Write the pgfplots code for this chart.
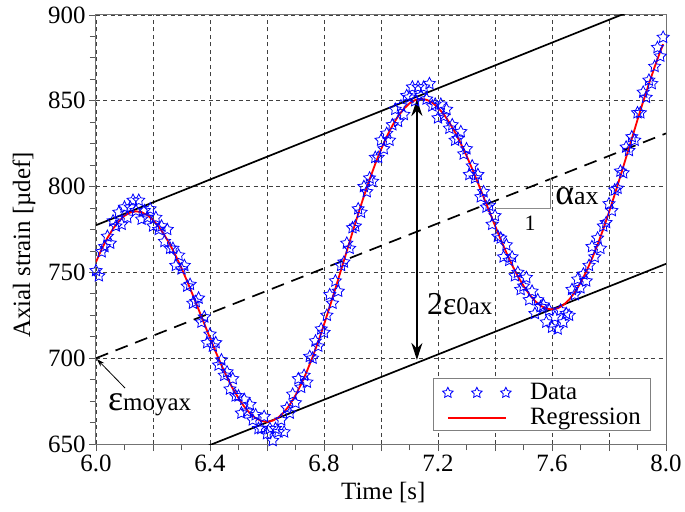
\documentclass[border=0pt]{standalone}
\usepackage{pgfplots}
\pgfplotsset{compat=1.18}
\usepackage{fontspec}
\setmainfont{Liberation Serif}
\usetikzlibrary{arrows.meta}
\pgfdeclareplotmark{ostar}{%
  \pgfpathmoveto{\pgfpointpolar{90}{\pgfplotmarksize}}%
  \pgfpathlineto{\pgfpointpolar{126}{0.5\pgfplotmarksize}}%
  \pgfpathlineto{\pgfpointpolar{162}{\pgfplotmarksize}}%
  \pgfpathlineto{\pgfpointpolar{198}{0.5\pgfplotmarksize}}%
  \pgfpathlineto{\pgfpointpolar{234}{\pgfplotmarksize}}%
  \pgfpathlineto{\pgfpointpolar{270}{0.5\pgfplotmarksize}}%
  \pgfpathlineto{\pgfpointpolar{306}{\pgfplotmarksize}}%
  \pgfpathlineto{\pgfpointpolar{342}{0.5\pgfplotmarksize}}%
  \pgfpathlineto{\pgfpointpolar{18}{\pgfplotmarksize}}%
  \pgfpathlineto{\pgfpointpolar{54}{0.5\pgfplotmarksize}}%
  \pgfpathclose
  \pgfusepathqstroke}
\begin{document}
\begin{tikzpicture}[font=\fontsize{25}{30}\selectfont]
\begin{axis}[
  name=ax, scale only axis, width=570bp, height=429bp,
  xmin=6, xmax=8, ymin=650, ymax=900,
  xtick={6,6.2,6.4,6.6,6.8,7,7.2,7.4,7.6,7.8,8},
  xticklabels={6.0,{},6.4,{},6.8,{},7.2,{},7.6,{},8.0},
  ytick={650,700,750,800,850,900},
  minor x tick num=1, minor y tick num=3,
  tick align=outside, tick pos=left,
  major tick length=7bp, minor tick length=6bp,
  tick style={black!65, line width=0.8bp},
  axis line style={black!55, line width=1bp},
  grid=major,
  major grid style={black!75, line width=0.7bp, dash pattern=on 4bp off 3.5bp},
  /pgf/number format/assume math mode=true,
  ticklabel style={font=\fontsize{25}{25}\selectfont},
  xlabel={Time [s]}, ylabel={Axial strain [µdef]},
  xlabel style={at={(axis description cs:0.504,-0.1305)}, anchor=base},
  ylabel style={at={(axis description cs:-0.1263,0.464)}, anchor=center},
  legend style={at={(axis description cs:0.974,0.03)}, anchor=south east,
    draw=black!50, line width=0.8bp, fill=white,
    font=\fontsize{25}{25}\selectfont, inner xsep=9bp, inner ysep=4bp,
    row sep=5bp, column sep=18bp, nodes={inner sep=1bp}},
  legend cell align=left,
]
\addplot[black, line width=1.7bp, forget plot] coordinates {(6,777.5)(8,910.5)};
\addplot[black, line width=1.7bp, dash pattern=on 13bp off 8bp, forget plot] coordinates {(6,700)(8,831)};
\addplot[black, line width=1.7bp, forget plot] coordinates {(6,623)(8,755)};
\addplot[black!45, line width=0.8bp, forget plot] coordinates {(7.40,787.5)(7.593,787.5)(7.593,805)};
\addplot[blue, only marks, mark=ostar, mark size=6.3bp, line width=0.8bp,
  legend image code/.code={\draw[mark repeat=1,mark phase=1,mark size=5.5bp] plot coordinates {(0bp,-1bp) (29bp,-1bp) (58bp,-1bp)};}]
coordinates {
(6.00,751)(6.01,748)(6.02,762)(6.03,765)(6.04,771)(6.05,767)(6.06,780)(6.07,777)(6.08,785)(6.09,778)
(6.10,788)(6.11,782)(6.12,788)(6.13,792)(6.14,786)(6.15,792)(6.16,781)(6.17,786)(6.18,782)(6.19,787)
(6.20,777)(6.21,782)(6.22,775)(6.23,777)(6.24,768)(6.25,775)(6.26,764)(6.27,764)(6.28,754)(6.29,760)
(6.30,752)(6.31,754)(6.32,742)(6.33,743)(6.34,732)(6.35,733)(6.36,735)(6.37,721)(6.38,724)(6.39,709)
(6.40,714)(6.41,707)(6.42,709)(6.43,696)(6.44,699)(6.45,690)(6.46,692)(6.47,682)(6.48,688)(6.49,678)
(6.50,678)(6.51,668)(6.52,676)(6.53,669)(6.54,673)(6.55,664)(6.56,667)(6.57,659)(6.58,659)(6.59,666)
(6.60,656)(6.61,659)(6.62,652)(6.63,659)(6.64,657)(6.65,664)(6.66,657)(6.67,671)(6.68,668)(6.69,679)
(6.70,674)(6.71,688)(6.72,683)(6.73,690)(6.74,686)(6.75,701)(6.76,700)(6.77,710)(6.78,707)(6.79,717)
(6.80,715)(6.81,725)(6.82,737)(6.83,732)(6.84,745)(6.85,739)(6.86,754)(6.87,756)(6.88,767)(6.89,764)
(6.90,776)(6.91,777)(6.92,787)(6.93,785)(6.94,800)(6.95,797)(6.96,805)(6.97,803)(6.98,817)(6.99,817)
(7.00,827)(7.01,822)(7.02,831)(7.03,827)(7.04,836)(7.05,845)(7.06,838)(7.07,847)(7.08,842)(7.09,853)
(7.10,852)(7.11,858)(7.12,850)(7.13,858)(7.14,853)(7.15,858)(7.16,851)(7.17,860)(7.18,847)(7.19,848)
(7.20,840)(7.21,848)(7.22,841)(7.23,845)(7.24,834)(7.25,836)(7.26,827)(7.27,828)(7.28,832)(7.29,819)
(7.30,822)(7.31,807)(7.32,812)(7.33,805)(7.34,807)(7.35,794)(7.36,797)(7.37,788)(7.38,789)(7.39,778)
(7.40,783)(7.41,771)(7.42,770)(7.43,759)(7.44,766)(7.45,757)(7.46,759)(7.47,748)(7.48,750)(7.49,740)
(7.50,742)(7.51,747)(7.52,734)(7.53,739)(7.54,726)(7.55,734)(7.56,730)(7.57,731)(7.58,721)(7.59,728)
(7.60,718)(7.61,724)(7.62,717)(7.63,728)(7.64,721)(7.65,726)(7.66,725)(7.67,740)(7.68,737)(7.69,746)
(7.70,741)(7.71,749)(7.72,745)(7.73,754)(7.74,765)(7.75,759)(7.76,770)(7.77,764)(7.78,777)(7.79,779)
(7.80,790)(7.81,786)(7.82,798)(7.83,799)(7.84,809)(7.85,808)(7.86,823)(7.87,821)(7.88,829)(7.89,827)
(7.90,843)(7.91,843)(7.92,855)(7.93,852)(7.94,862)(7.95,860)(7.96,870)(7.97,881)(7.98,876)(7.99,887)
};
\addlegendentry{Data}
\addplot[red, line width=1.8bp, no marks,
  legend image code/.code={\draw[line width=2bp] (0bp,-1bp) -- (58bp,-1bp);}]
coordinates {
(6.00,756.1)(6.02,763.6)(6.04,770.1)(6.06,775.5)(6.08,779.8)(6.10,783.0)(6.12,784.9)(6.14,785.6)(6.16,785.1)(6.18,783.4)
(6.20,780.6)(6.22,776.7)(6.24,771.8)(6.26,766.1)(6.28,759.6)(6.30,752.5)(6.32,744.8)(6.34,736.7)(6.36,728.4)(6.38,720.1)
(6.40,711.8)(6.42,703.7)(6.44,696.0)(6.46,688.8)(6.48,682.3)(6.50,676.7)(6.52,671.8)(6.54,667.9)(6.56,665.1)(6.58,663.4)
(6.60,662.9)(6.62,663.6)(6.64,665.5)(6.66,668.6)(6.68,672.9)(6.70,678.4)(6.72,684.9)(6.74,692.4)(6.76,700.7)(6.78,709.8)
(6.80,719.6)(6.82,729.9)(6.84,740.6)(6.86,751.5)(6.88,762.4)(6.90,773.4)(6.92,784.1)(6.94,794.4)(6.96,804.2)(6.98,813.3)
(7.00,821.6)(7.02,829.1)(7.04,835.6)(7.06,841.0)(7.08,845.3)(7.10,848.5)(7.12,850.4)(7.14,851.1)(7.16,850.6)(7.18,848.9)
(7.20,846.1)(7.22,842.2)(7.24,837.3)(7.26,831.6)(7.28,825.1)(7.30,818.0)(7.32,810.3)(7.34,802.2)(7.36,793.9)(7.38,785.6)
(7.40,777.3)(7.42,769.2)(7.44,761.5)(7.46,754.3)(7.48,747.8)(7.50,742.2)(7.52,737.3)(7.54,733.4)(7.56,730.6)(7.58,728.9)
(7.60,728.4)(7.62,729.1)(7.64,731.0)(7.66,734.1)(7.68,738.4)(7.70,743.9)(7.72,750.4)(7.74,757.9)(7.76,766.2)(7.78,775.3)
(7.80,785.1)(7.82,795.4)(7.84,806.1)(7.86,817.0)(7.88,827.9)(7.90,838.9)(7.92,849.6)(7.94,859.9)(7.96,869.7)(7.98,878.8)
(7.99,883.0)
};
\addlegendentry{Regression}
\addplot[black, line width=1.5bp, {Stealth[length=17bp,width=11bp]}-{Stealth[length=17bp,width=11bp]}, forget plot]
  coordinates {(7.126,851)(7.126,699)};
\node[anchor=base west, inner sep=0pt] at (axis cs:7.161,725.2) {\fontsize{32}{32}\selectfont 2ε\fontsize{25}{25}\selectfont 0ax};
\node[anchor=base west, inner sep=0pt] at (axis cs:7.611,789.3) {\fontsize{36}{36}\selectfont α\fontsize{26}{26}\selectfont ax};
\node[anchor=base, inner sep=0pt] at (axis cs:7.523,774.7) {\fontsize{22}{22}\selectfont 1};
\node[anchor=base west, inner sep=0pt] at (axis cs:6.042,669.8) {\fontsize{36}{36}\selectfont ε\fontsize{25}{25}\selectfont moyax};
\draw[black, line width=0.8bp, -{Stealth[length=8bp,width=5bp]}] (axis cs:6.102,682.6) -- (axis cs:6.003,699.5);
\end{axis}
\pgfresetboundingbox
\useasboundingbox (ax.south west) ++(-96bp,-68bp) rectangle ++(685bp,512bp);
\end{tikzpicture}
\end{document}
